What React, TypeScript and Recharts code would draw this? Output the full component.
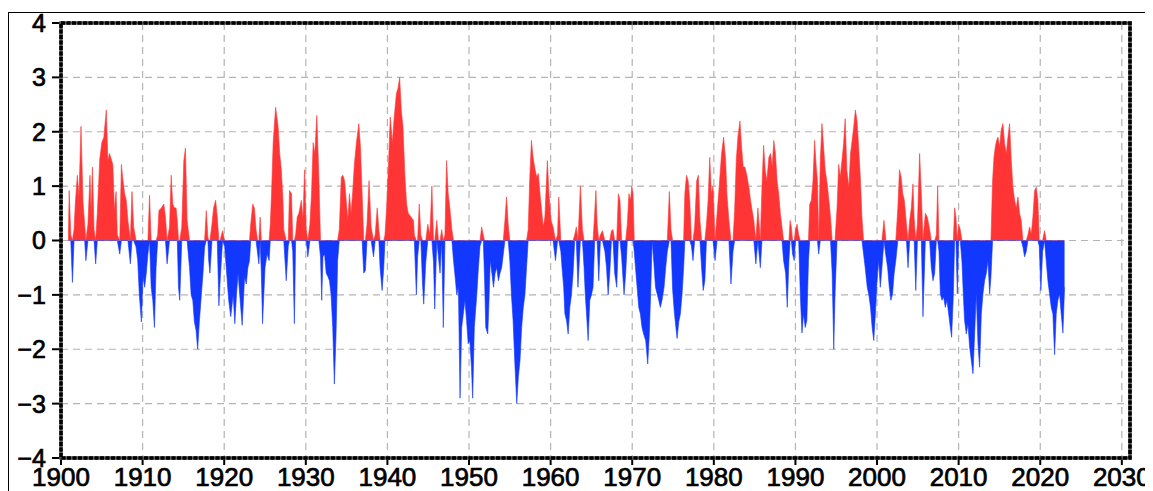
import React from "react";
import { AreaChart, Area, XAxis, YAxis, CartesianGrid } from "recharts";

// PDO-like monthly index as [year, value] pairs
const pdo1900s: [number, number][] = [
  [1900.9, 0], [1901.0, 0.92], [1901.2, 0.1], [1901.4, -0.77], [1901.6, 0.2], [1901.75, 0.67], [1902.0, 1.2], [1902.2, 0.8],
  [1902.45, 2.1], [1902.7, 0.7], [1902.9, 0.3], [1903.05, -0.37], [1903.3, 0.3], [1903.55, 1.2], [1903.7, 0.5], [1903.85, 1.35],
  [1904.05, 0.2], [1904.25, -0.43], [1904.45, 0.5], [1904.75, 1.5], [1905.0, 1.8], [1905.25, 1.9], [1905.55, 2.4], [1905.75, 1.47],
  [1905.95, 1.6], [1906.15, 1.5], [1906.35, 1.4], [1906.55, 0.55], [1906.75, 0.9], [1906.9, 0.1], [1907.2, -0.25], [1907.4, 1.4],
  [1907.6, 1.1], [1907.8, 0.86], [1908.0, 0.74], [1908.2, 0.37], [1908.5, -0.43], [1908.7, 0.9], [1908.9, 0.25], [1909.2, -0.12],
  [1909.4, -0.37], [1909.6, -1.0], [1909.85, -1.5], [1910.05, -0.67], [1910.25, -0.86], [1910.45, -0.6], [1910.65, -0.25], [1910.85, 0.83],
  [1911.05, -0.86], [1911.25, -1.1], [1911.45, -1.6], [1911.65, -0.5], [1911.85, 0.1], [1912.0, 0.55], [1912.3, 0.6], [1912.6, 0.67],
  [1912.8, 0.43], [1913.0, -0.43], [1913.3, 0.25], [1913.5, 1.2], [1913.7, 0.67], [1913.9, 0.6], [1914.1, 0.6], [1914.25, 0.37],
  [1914.4, -0.86], [1914.55, -1.1], [1914.8, 0.25], [1915.05, 1.47], [1915.25, 1.7], [1915.45, 0.37], [1915.75, -0.5], [1915.95, -1.0],
  [1916.15, -1.1], [1916.35, -1.5], [1916.55, -1.65], [1916.75, -2.0], [1916.95, -1.5], [1917.2, -1.0], [1917.4, -0.6], [1917.6, -0.12],
  [1917.8, 0.55], [1918.0, 0.06], [1918.1, -0.37], [1918.25, -0.6], [1918.5, 0.3], [1918.7, 0.6], [1918.95, 0.74], [1919.15, 0.43],
  [1919.35, -1.2], [1919.5, -0.74], [1919.8, 0.18], [1920.05, -0.1], [1920.25, -0.5], [1920.55, -1.1], [1920.8, -1.4], [1921.1, -1.0],
  [1921.3, -1.53],
];

const pdo1920s: [number, number][] = [
  [1921.5, -1.0], [1921.7, -0.6], [1921.9, -1.0], [1922.2, -1.56], [1922.5, -0.67], [1922.7, -0.8], [1922.9, -0.5], [1923.1, -0.37],
  [1923.25, 0.3], [1923.5, 0.67], [1923.7, 0.6], [1923.9, 0.2], [1924.1, -0.25], [1924.25, -0.43], [1924.4, 0.43], [1924.55, -0.6],
  [1924.7, -1.53], [1925.0, -0.5], [1925.25, -0.25], [1925.5, -0.37], [1925.65, 0.3], [1925.8, 0.86], [1926.0, 1.8], [1926.3, 2.45],
  [1926.6, 2.1], [1926.8, 1.6], [1927.0, 1.3], [1927.2, 0.74], [1927.3, 0.2], [1927.6, -0.74], [1927.85, -0.1], [1928.0, 0.92],
  [1928.25, 0.86], [1928.4, -0.2], [1928.6, -1.53], [1928.75, 0.1], [1928.95, 0.43], [1929.15, 0.5], [1929.45, 0.74], [1929.65, 0.4],
  [1929.85, 1.3], [1930.05, 0.2], [1930.25, -0.3], [1930.5, 0.3], [1930.7, 0.86], [1930.9, 1.8], [1931.1, 1.6], [1931.35, 2.3],
  [1931.6, 1.17], [1931.8, -0.3], [1931.95, -1.1], [1932.1, -0.3], [1932.3, -0.25], [1932.5, -0.6], [1932.7, -0.66], [1932.9, -0.74],
  [1933.1, -1.0], [1933.3, -1.6], [1933.5, -2.64], [1933.7, -1.75], [1933.9, -0.37], [1934.1, 0.2], [1934.35, 1.17], [1934.55, 1.2],
  [1934.75, 1.1], [1934.95, 0.74], [1935.15, 0.37], [1935.35, 0.86], [1935.55, 0.5], [1935.75, 0.9], [1935.95, 1.4], [1936.2, 1.8],
  [1936.5, 2.15], [1936.7, 1.7], [1936.9, 0.86], [1937.1, -0.6], [1937.3, -0.55], [1937.5, 0.3], [1937.75, 1.1], [1938.0, 0.25],
  [1938.3, -0.3], [1938.5, 0.1], [1938.75, 0.6], [1938.95, 0.2], [1939.1, -0.5], [1939.35, -0.92], [1939.55, -0.5], [1939.7, 0.1],
  [1939.9, 0.6], [1940.15, 1.47], [1940.35, 2.27], [1940.6, 1.8], [1940.85, 2.3], [1941.1, 2.7], [1941.3, 2.8], [1941.5, 3.0],
  [1941.7, 2.4], [1941.9, 2.1],
];

const pdo1940s: [number, number][] = [
  [1942.15, 1.17], [1942.35, 0.67], [1942.55, 0.5], [1942.9, 0.43], [1943.2, 0.37], [1943.3, 0.1], [1943.55, -1.0], [1943.7, -0.3],
  [1943.9, 0.67], [1944.1, 0.1], [1944.3, -0.8], [1944.45, -1.17], [1944.7, -0.4], [1944.95, 0.3], [1945.2, 0.1], [1945.45, 1.0],
  [1945.65, -0.4], [1945.8, -1.26], [1946.05, 0.37], [1946.25, -0.3], [1946.45, -0.6], [1946.65, 0.2], [1946.85, -1.6], [1947.05, 0.1],
  [1947.25, 1.47], [1947.45, 0.86], [1947.65, 0.6], [1947.9, 0.2], [1948.1, -0.37], [1948.3, -0.67], [1948.5, -1.0], [1948.7, -0.86],
  [1948.9, -2.9], [1949.1, -1.6], [1949.3, -1.35], [1949.5, -1.1], [1949.7, -1.47], [1949.9, -1.9], [1950.1, -1.84], [1950.3, -2.33],
  [1950.45, -2.9], [1950.65, -1.6], [1950.95, -1.0], [1951.15, -0.5], [1951.35, -0.1], [1951.55, 0.25], [1951.75, 0.1], [1951.9, -0.67],
  [1952.05, -1.6], [1952.3, -1.72], [1952.45, -1.1], [1952.6, -0.37], [1952.8, -0.6], [1953.0, -0.86], [1953.2, -0.6], [1953.4, -0.5],
  [1953.6, -0.74], [1953.8, -0.6], [1954.0, -0.5], [1954.2, -0.25], [1954.4, 0.37], [1954.6, 0.8], [1954.8, 0.3], [1955.0, -0.37],
  [1955.2, -1.0], [1955.4, -1.47], [1955.6, -2.2], [1955.85, -3.0], [1956.05, -2.5], [1956.25, -2.2], [1956.45, -1.6], [1956.65, -1.23],
  [1956.85, -1.0], [1957.05, -0.5], [1957.25, 0.2], [1957.45, 1.17], [1957.65, 1.84], [1957.85, 1.53], [1958.1, 1.3], [1958.3, 1.17],
  [1958.5, 1.23], [1958.7, 0.86], [1958.9, 0.55], [1959.1, 0.25], [1959.3, 0.43], [1959.6, 1.47], [1959.8, 0.86], [1960.05, 0.37],
  [1960.3, 0.25], [1960.6, -0.37], [1960.85, 0.1], [1961.0, 0.8], [1961.25, -0.2], [1961.4, -0.5], [1961.6, -0.86], [1961.75, -1.35],
  [1961.95, -1.47], [1962.15, -1.72], [1962.35, -1.23], [1962.55, -1.0], [1962.75, -0.6], [1962.95, 0.1], [1963.15, 0.25], [1963.35, -0.86],
  [1963.65, 1.0],
];

const pdo1960s: [number, number][] = [
  [1963.9, 0.2], [1964.1, -0.5], [1964.25, -1.0], [1964.4, -1.35], [1964.6, -1.84], [1964.8, -1.1], [1965.0, -1.0], [1965.2, -0.86],
  [1965.4, 0.5], [1965.55, 0.92], [1965.7, 0.3], [1965.9, -0.74], [1966.1, 0.1], [1966.35, 0.18], [1966.65, -0.2], [1966.85, -0.5],
  [1967.05, -1.0], [1967.25, -0.6], [1967.45, 0.18], [1967.65, 0.2], [1967.85, -0.6], [1968.1, -0.86], [1968.3, 0.86], [1968.5, 0.74],
  [1968.7, -0.3], [1969.0, -1.0], [1969.2, -0.6], [1969.4, 0.3], [1969.6, 0.86], [1969.8, 0.74], [1969.95, 1.0], [1970.1, 0.86],
  [1970.25, -0.2], [1970.4, -0.5], [1970.6, -0.86], [1970.8, -1.23], [1971.0, -1.35], [1971.2, -1.6], [1971.4, -1.72], [1971.65, -1.84],
  [1971.9, -2.27], [1972.1, -1.72], [1972.25, -1.0], [1972.45, 0.0], [1972.65, -0.4], [1972.85, -0.86], [1973.05, -0.98], [1973.25, -1.1],
  [1973.45, -1.23], [1973.65, -1.1], [1973.9, -0.86], [1974.1, -0.5], [1974.3, -0.2], [1974.55, 0.9], [1974.75, 0.2], [1974.95, -0.9],
  [1975.15, -1.3], [1975.35, -1.6], [1975.5, -1.8], [1975.7, -1.5], [1975.9, -1.35], [1976.1, -1.0], [1976.3, -0.5], [1976.45, 0.86],
  [1976.65, 1.2], [1976.85, 1.1], [1977.05, 0.74], [1977.25, -0.1], [1977.45, -0.37], [1977.65, 0.25], [1977.9, 1.1], [1978.1, 1.2],
  [1978.3, 0.37], [1978.5, -0.5], [1978.7, -0.92], [1978.9, -0.74], [1979.1, 0.3], [1979.3, 0.74], [1979.5, 1.53], [1979.7, 0.86],
  [1979.9, 1.0], [1980.15, -0.37], [1980.4, 0.5], [1980.65, 0.98], [1980.95, 1.6], [1981.2, 1.9], [1981.45, 1.47], [1981.6, 0.86],
  [1981.85, 0.37], [1982.1, -0.8], [1982.35, -0.2], [1982.55, 0.55], [1982.75, 1.47], [1982.95, 1.9], [1983.2, 2.2], [1983.4, 1.72],
  [1983.6, 1.35], [1983.8, 1.35],
];

const pdo1980s: [number, number][] = [
  [1984.0, 1.23], [1984.3, 0.98], [1984.5, 0.74], [1984.7, 0.55], [1984.9, 0.37], [1985.15, -0.43], [1985.4, 0.6], [1985.7, -0.5],
  [1985.9, 0.98], [1986.1, 1.75], [1986.3, 1.29], [1986.5, 1.1], [1986.75, 1.53], [1986.95, 1.6], [1987.15, 1.35], [1987.35, 1.84],
  [1987.55, 1.6], [1987.75, 1.1], [1987.95, 0.86], [1988.15, 0.5], [1988.35, 0.25], [1988.55, -0.37], [1988.8, -0.6], [1989.0, -1.23],
  [1989.2, -0.37], [1989.35, 0.37], [1989.5, 0.25], [1989.65, -0.25], [1989.85, -0.37], [1990.0, 0.18], [1990.2, 0.3], [1990.4, 0.1],
  [1990.6, -1.0], [1990.8, -1.7], [1991.0, -1.35], [1991.2, -1.6], [1991.4, -1.47], [1991.6, -0.37], [1991.75, 0.67], [1991.95, 0.74],
  [1992.15, 1.1], [1992.35, 1.84], [1992.55, 1.35], [1992.7, 1.1], [1992.85, -0.25], [1993.05, 1.47], [1993.25, 2.15], [1993.45, 1.72],
  [1993.65, 1.29], [1993.9, 1.04], [1994.1, 0.74], [1994.3, 0.43], [1994.5, -0.6], [1994.7, -2.0], [1994.85, -1.0], [1995.1, 0.6],
  [1995.3, 1.4], [1995.5, 1.17], [1995.7, 1.47], [1995.9, 1.78], [1996.1, 2.24], [1996.3, 1.29], [1996.55, 0.98], [1996.75, 1.6],
  [1996.95, 1.84], [1997.15, 2.1], [1997.35, 2.4], [1997.55, 2.2], [1997.75, 1.72], [1997.95, 1.17], [1998.15, 0.43], [1998.35, -0.25],
  [1998.55, -0.5], [1998.8, -0.86], [1999.0, -1.0], [1999.2, -1.23], [1999.4, -1.6], [1999.6, -1.84], [1999.8, -1.35], [2000.0, -0.74],
  [2000.2, -0.37], [2000.4, -0.86], [2000.6, -0.5], [2000.85, 0.37], [2001.1, -0.3], [2001.3, -0.5], [2001.5, -0.86], [2001.7, -1.1],
  [2001.9, -0.98], [2002.1, -0.6], [2002.3, -0.37], [2002.55, 0.6], [2002.75, 1.3], [2002.95, 1.17], [2003.15, 0.86], [2003.35, 0.74],
  [2003.6, 0.3], [2003.8, -0.5], [2004.0, 0.37], [2004.2, 0.6], [2004.4, 1.04], [2004.55, 0.4], [2004.75, -0.92], [2004.95, 0.3],
];

const pdo2005s: [number, number][] = [
  [2005.22, 1.6], [2005.43, 0.86], [2005.63, -1.4], [2005.92, 0.5], [2006.16, 0.43], [2006.45, 0.2], [2006.65, -0.5], [2006.86, -0.74],
  [2007.06, -0.6], [2007.27, 0.1], [2007.43, 1.0], [2007.59, -0.2], [2007.76, -0.98], [2007.96, -1.1], [2008.16, -1.04], [2008.37, -1.23],
  [2008.57, -1.1], [2008.78, -1.35], [2008.98, -1.6], [2009.14, -1.78], [2009.35, -1.0], [2009.51, 0.6], [2009.67, 0.43], [2009.84, -0.98],
  [2010.0, 0.3], [2010.2, 0.2], [2010.41, -0.4], [2010.57, -0.98], [2010.73, -1.47], [2010.94, -1.72], [2011.14, -1.53], [2011.35, -1.96],
  [2011.55, -2.2], [2011.76, -2.45], [2011.96, -1.72], [2012.16, -0.98], [2012.37, -1.9], [2012.57, -2.33], [2012.78, -1.35], [2012.98, -0.98],
  [2013.18, -0.74], [2013.39, -0.6], [2013.59, -0.37], [2013.8, -0.98], [2013.96, -0.67], [2014.16, 1.1], [2014.33, 1.53], [2014.49, 1.72],
  [2014.65, 1.84], [2014.82, 1.9], [2015.02, 1.72], [2015.22, 2.03], [2015.43, 2.15], [2015.63, 1.78], [2015.84, 1.6], [2016.04, 1.9],
  [2016.24, 2.15], [2016.45, 1.47], [2016.65, 0.98], [2016.86, 0.74], [2017.06, 0.6], [2017.27, 0.8], [2017.47, 0.5], [2017.67, 0.37],
  [2017.88, -0.12], [2018.08, -0.3], [2018.29, -0.2], [2018.49, 0.1], [2018.69, 0.25], [2018.9, 0.12], [2019.1, 0.43], [2019.31, 0.92],
  [2019.51, 0.98], [2019.71, 0.74], [2019.88, -0.1], [2020.08, -0.92], [2020.29, -0.2], [2020.53, 0.18], [2020.73, -0.37], [2020.94, -0.74],
  [2021.14, -0.98], [2021.35, -1.23], [2021.55, -1.35], [2021.76, -2.1], [2021.96, -1.35], [2022.16, -1.1], [2022.37, -0.98], [2022.57, -1.35],
  [2022.78, -1.7], [2022.98, -0.86],
];

const xTicks = [1900, 1910, 1920, 1930, 1940, 1950, 1960, 1970, 1980, 1990, 2000, 2010, 2020, 2030];
const yTicks = [-4, -3, -2, -1, 0, 1, 2, 3, 4];

const allReadings = [...pdo1900s, ...pdo1920s, ...pdo1940s, ...pdo1960s, ...pdo1980s, ...pdo2005s];
const chartData = allReadings.map(([year, v]) => ({
  year,
  pos: Math.max(v, 0),
  neg: Math.min(v, 0),
}));

const W = 1153;
const H = 491;
const PL = 61, PT = 23, PR = 1130, PB = 458;

const fontFam = "'Liberation Sans', Arial, sans-serif";
const xTickFont = { fontFamily: fontFam, fontSize: 26, fill: "#000", stroke: "#000", strokeWidth: 0.7 };
const yTickFont = { fontFamily: fontFam, fontSize: 25, fill: "#000", stroke: "#000", strokeWidth: 0.7 };

const fmtY = (v: number) => (v < 0 ? "\u2212" + Math.abs(v) : String(v));

export default function App() {
  return (
    <div style={{ position: "relative", width: W, height: H, margin: "-8px 0 0 -8px", overflow: "hidden", background: "#fff" }}>
      <div style={{ position: "absolute", left: 8, top: 12, width: 1143, height: 500, border: "1.5px solid #000", boxSizing: "border-box" }} />
      <div style={{ position: "absolute", left: 0, top: 0 }}>
        <AreaChart width={W} height={H} data={chartData} margin={{ top: PT, right: W - PR, bottom: 0, left: 8 }}>
          <CartesianGrid stroke="#b4b4b4" strokeDasharray="7 5" strokeWidth={1.2} />
          <XAxis
            dataKey="year"
            type="number"
            domain={[1900, 2031]}
            ticks={xTicks}
            allowDataOverflow
            height={H - PB}
            axisLine={false}
            tickLine={{ stroke: "#000", strokeWidth: 2 }}
            tickSize={7}
            tickMargin={3}
            tick={xTickFont}
            interval={0}
          />
          <YAxis
            type="number"
            domain={[-4, 4]}
            ticks={yTicks}
            allowDataOverflow
            width={PL - 8}
            axisLine={false}
            tickLine={{ stroke: "#000", strokeWidth: 2 }}
            tickSize={9}
            tickMargin={6}
            tick={yTickFont}
            tickFormatter={fmtY}
            interval={0}
          />
          <Area
            type="linear"
            dataKey="pos"
            baseValue={0}
            fill="#ff3535"
            fillOpacity={1}
            stroke="#ff3535"
            strokeWidth={0.6}
            isAnimationActive={false}
            dot={false}
            activeDot={false}
          />
          <Area
            type="linear"
            dataKey="neg"
            baseValue={0}
            fill="#1238ff"
            fillOpacity={1}
            stroke="#1238ff"
            strokeWidth={0.6}
            isAnimationActive={false}
            dot={false}
            activeDot={false}
          />
        </AreaChart>
      </div>
      <svg width={W} height={H} style={{ position: "absolute", left: 0, top: 0, pointerEvents: "none" }}>
        <rect x={PL} y={PT} width={PR - PL} height={PB - PT} fill="none" stroke="#555" strokeWidth={3.5} />
        <rect x={PL} y={PT} width={PR - PL} height={PB - PT} fill="none" stroke="#000" strokeWidth={3.5} strokeDasharray="4 1.5" />
      </svg>
    </div>
  );
}
